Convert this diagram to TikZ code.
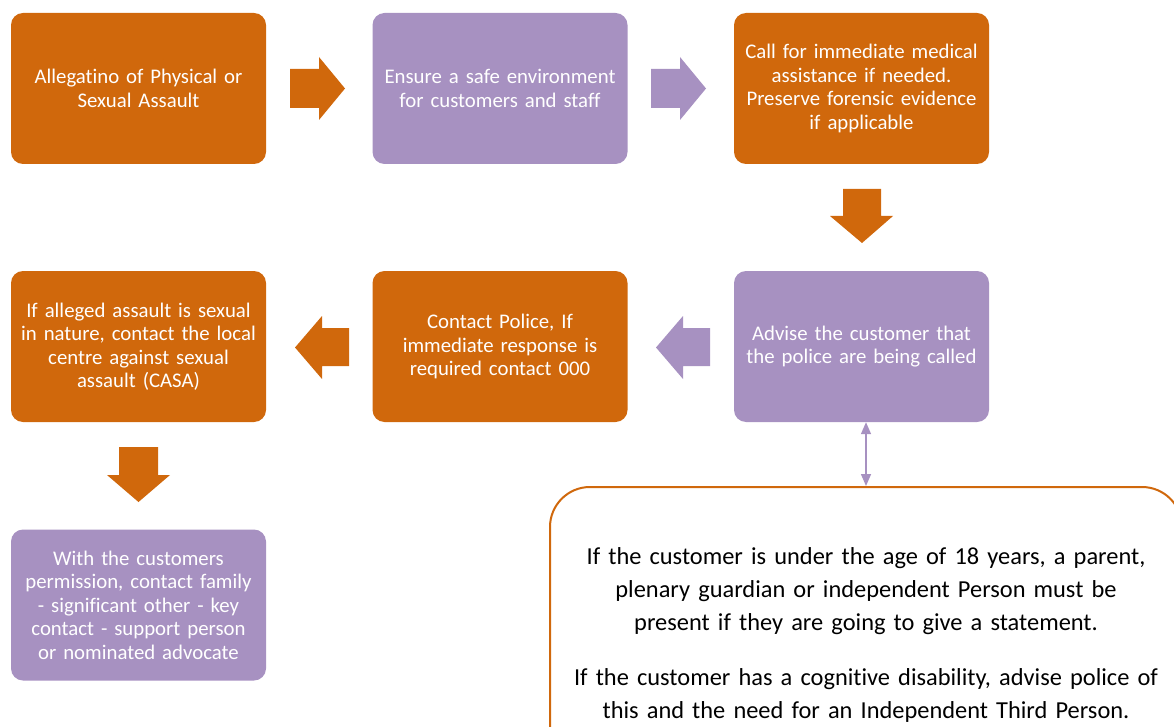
\documentclass[tikz,border=0pt]{standalone}
\usepackage{fontspec}
\setmainfont{Carlito}[Ligatures=NoCommon]
\usetikzlibrary{arrows.meta}
\definecolor{org}{HTML}{D0680C}
\definecolor{lav}{HTML}{A791C1}
\begin{document}
\begin{tikzpicture}[x=1pt,y=-1pt,
  box/.style={rounded corners=12pt, minimum width=255pt, minimum height=151pt, text width=252pt, align=center, text=white, font=\fontsize{20.8}{23.5}\selectfont, inner sep=0pt},
  obox/.style={box, fill=org}, pbox/.style={box, fill=lav},
  callout/.style={draw=org, line width=2pt, fill=white, rounded corners=40pt, minimum width=632pt, minimum height=296pt, text width=625pt, align=center, font=\fontsize{24.4}{33}\selectfont, inner sep=0pt},
  dbl/.style={draw=lav, line width=1.5pt, {Triangle[width=10pt,length=12pt]}-{Triangle[width=10pt,length=12pt]}}]
\clip (0,0) rectangle (1174,727);
\node[obox] (b1) at (138.5,88.5) {Allegatino of Physical or\\Sexual Assault};
\node[pbox] (b2) at (500,88.5) {Ensure a safe environment\\for customers and staff};
\node[obox] (b3) at (861.5,88.5) {Call for immediate medical\\assistance if needed.\\Preserve forensic evidence\\if applicable};
\node[obox] (b4) at (138.5,346.5) {If alleged assault is sexual\\in nature, contact the local\\centre against sexual\\assault (CASA)};
\node[obox] (b5) at (500,346.5) {Contact Police, If\\immediate response is\\required contact 000};
\node[pbox] (b6) at (861.5,346.5) {Advise the customer that\\the police are being called};
\node[pbox] (b7) at (138.5,605) {With the customers\\permission, contact family\\- significant other - key\\contact - support person\\or nominated advocate};
\node[callout] (co) at (866,635) {If the customer is under the age of 18 years, a parent,\\plenary guardian or independent Person must be\\present if they are going to give a statement.\\[22pt]If the customer has a cognitive disability, advise police of\\this and the need for an Independent Third Person.};
% block arrows
\fill[org] (290,69) -- (319,69) -- (319,57) -- (345,88.5) -- (319,120) -- (319,108) -- (290,108) -- cycle;
\fill[lav] (651,69) -- (680,69) -- (680,57) -- (706,88.5) -- (680,120) -- (680,108) -- (651,108) -- cycle;
\fill[org] (843,189) -- (881,189) -- (881,216) -- (893,216) -- (862,243) -- (830,216) -- (843,216) -- cycle;
\fill[lav] (710,328) -- (683,328) -- (683,316) -- (656,347.5) -- (683,379) -- (683,366) -- (710,366) -- cycle;
\fill[org] (349,328) -- (322,328) -- (322,316) -- (295,347.5) -- (322,379) -- (322,366) -- (349,366) -- cycle;
\fill[org] (119,447) -- (158,447) -- (158,475) -- (170,475) -- (138.5,502) -- (107,475) -- (119,475) -- cycle;
\draw[dbl] (co.north |- b6.south) -- (co.north);
\end{tikzpicture}
\end{document}
